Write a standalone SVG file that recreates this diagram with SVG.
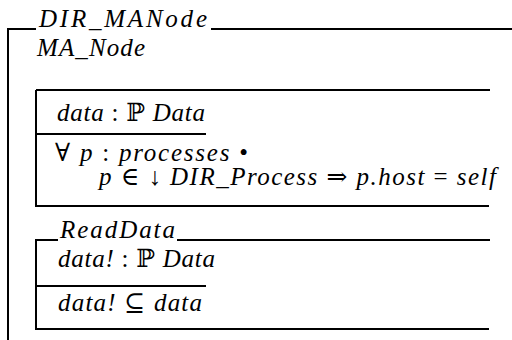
<svg xmlns="http://www.w3.org/2000/svg" width="512" height="340" viewBox="0 0 512 340">
<style>
.ln{stroke:#000;stroke-width:2;fill:none}
.i{font-style:italic}
.s{font-style:normal}
</style>
<rect width="512" height="340" fill="#fff"/>
<g id="DIR_MANode" font-family="Liberation Serif, DejaVu Serif, serif" font-size="25" fill="#000">
<path class="ln" d="M8,340 V29 H36 M211,29 H512"/>
<text class="i" x="39" y="27" style="font-size:25px" textLength="168" lengthAdjust="spacing">DIR_MANode</text>
<text class="i" x="37" y="56" style="font-size:25px" textLength="108" lengthAdjust="spacing">MA_Node</text>
</g>
<g id="State" font-family="Liberation Serif, DejaVu Serif, serif" font-size="25" fill="#000">
<path class="ln" d="M36,90 H490 M36,90 V206 H489 M36,134 H206"/>
<text x="57" y="121" style="font-size:25px" textLength="148" lengthAdjust="spacing"><tspan class="i">data</tspan><tspan class="s"> : ℙ </tspan><tspan class="i">Data</tspan></text>
<text x="55" y="161" style="font-size:25px" textLength="193" lengthAdjust="spacing"><tspan class="s">∀ </tspan><tspan class="i">p</tspan><tspan class="s"> : </tspan><tspan class="i">processes</tspan><tspan class="s"> •</tspan></text>
<text x="99" y="185" style="font-size:25px" textLength="397" lengthAdjust="spacing"><tspan class="i">p</tspan><tspan class="s"> ∈ ↓ </tspan><tspan class="i">DIR_Process</tspan><tspan class="s"> ⇒ </tspan><tspan class="i">p.host</tspan><tspan class="s"> = </tspan><tspan class="i">self</tspan></text>
</g>
<g id="ReadData" font-family="Liberation Serif, DejaVu Serif, serif" font-size="25" fill="#000">
<path class="ln" d="M58,240 H36 V329 H489 M177,240 H490 M36,286 H206"/>
<text class="i" x="60" y="238" style="font-size:25px" textLength="115" lengthAdjust="spacing">ReadData</text>
<text x="58" y="267" style="font-size:25px" textLength="157" lengthAdjust="spacing"><tspan class="i">data!</tspan><tspan class="s"> : ℙ </tspan><tspan class="i">Data</tspan></text>
<text x="58" y="311" style="font-size:25px" textLength="144" lengthAdjust="spacing"><tspan class="i">data!</tspan><tspan class="s"> ⊆ </tspan><tspan class="i">data</tspan></text>
</g>
</svg>
